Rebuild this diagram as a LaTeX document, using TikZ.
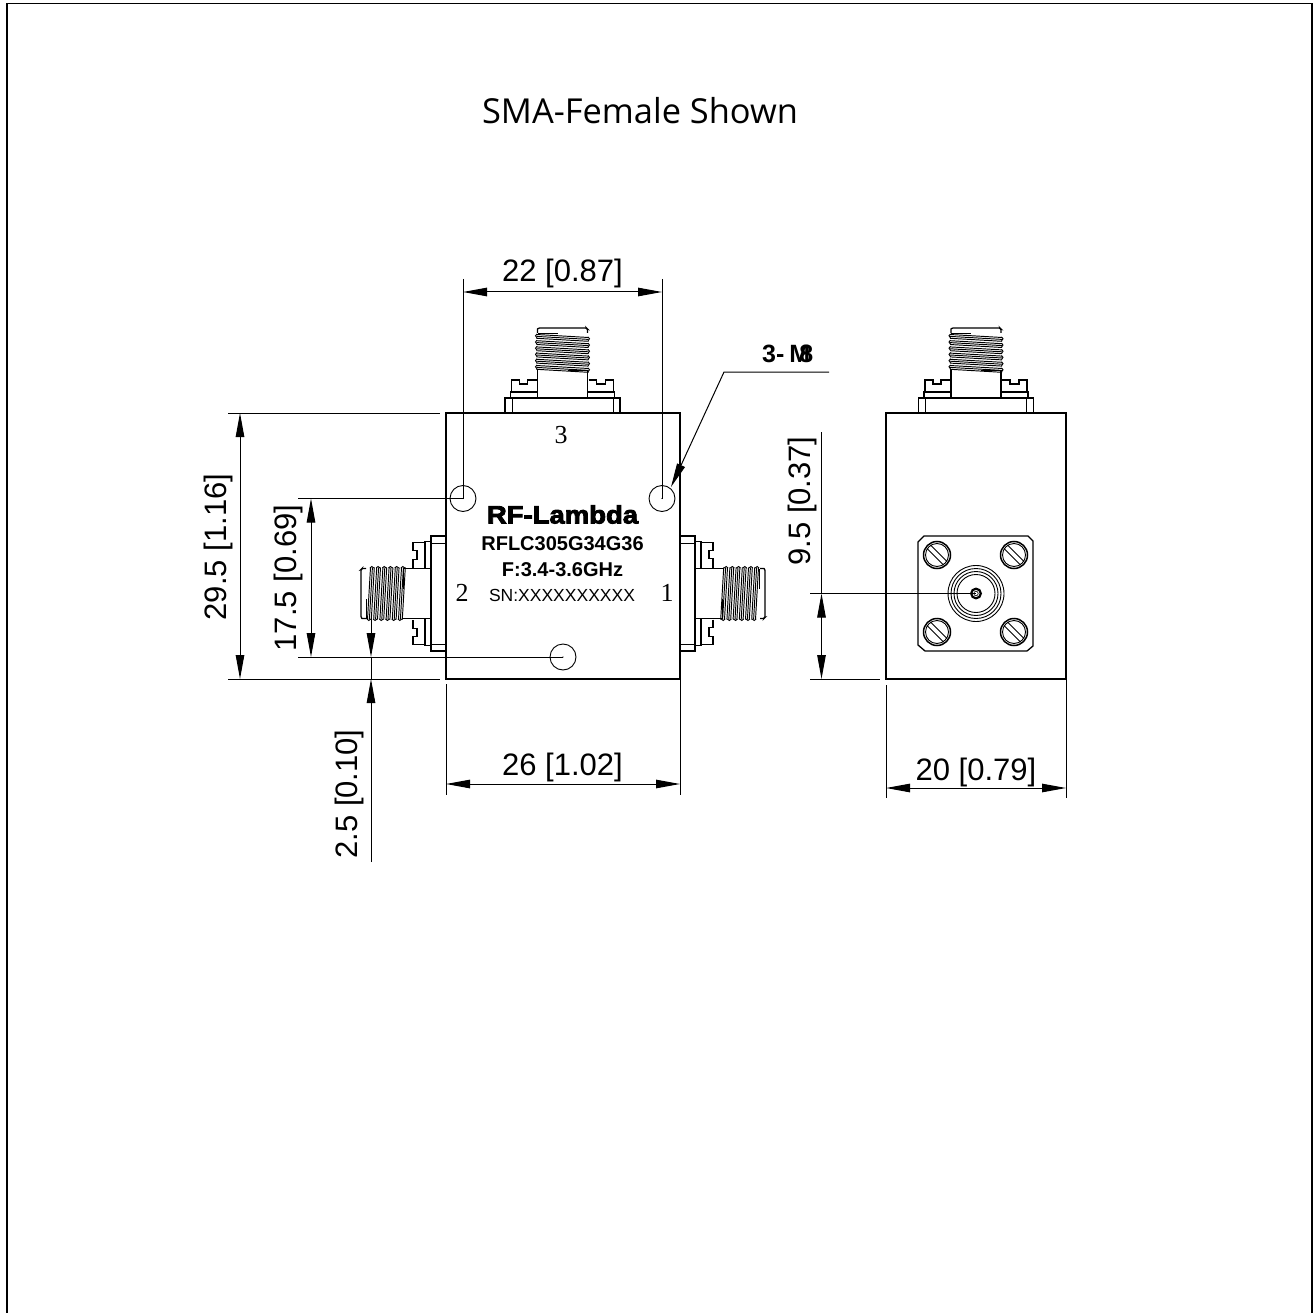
\documentclass[tikz,border=0pt]{standalone}
\usepackage{fontspec}
\setmainfont{Liberation Sans}
\newfontfamily\titlefont{Open Sans}
\newfontfamily\heavyfont[BoldFeatures={FakeBold=3.5,FakeStretch=1.1}]{Liberation Sans}
\newfontfamily\seriffont{Liberation Serif}
\usetikzlibrary{arrows.meta}
\tikzset{
  dimtext/.style={inner sep=0pt,font=\fontsize{31}{31}\selectfont},
  dimtextv/.style={dimtext,rotate=90},
  dimline/.style={line width=1pt,black},
  dimarrow/.style={line width=1pt,black,{Stealth[length=24pt,width=8.5pt,inset=0pt]}-{Stealth[length=24pt,width=8.5pt,inset=0pt]}},
  endarrow/.style={line width=1pt,black,-{Stealth[length=24pt,width=8.5pt,inset=0pt]}},
  part/.style={line width=1.3pt,black},
  heavy/.style={line width=1.8pt,black},
  thin/.style={line width=0.9pt,black},
  threadline/.style={line width=0.95pt,black},
  labeltext/.style={inner sep=0pt},
}
% connector drawn in local coordinates: u across, v along axis from base
\newcommand{\sma}{%
  \draw[part] (-57.5,0) rectangle (57.5,15);
  \draw[heavy] (-57.5,0) -- (57.5,0);
  \draw[thin] (-50.5,0) -- (-50.5,15) (50.5,0) -- (50.5,15);
  \draw[part] (-52,15) rectangle (-25,21);
  \draw[part] (25,15) rectangle (52,21);
  \draw[part] (-25,15) -- (-25,43) (25,15) -- (25,43);
  \draw[part] (-51,21) -- (-51,33) -- (-43,33) -- (-43,29) -- (-35,29) -- (-35,33) -- (-26,33);
  \draw[part] (26,33) -- (34,33) -- (34,29) -- (43,29) -- (43,33) -- (51,33) -- (51,21);
  \draw[part] (-25,80) -- (-25,84) [rounded corners=1pt] -- (-24,85) -- (24,85) -- (25,84) -- (25,80);
  \draw[heavy] (-25,79.5) -- (-5,79.5);
  \draw[heavy] (5,42.5) -- (25,42.5);
  \foreach \i in {0,...,5}{
    \pgfmathsetmacro{\va}{78.5-6.2*\i}
    \draw[threadline] (-26,\va) -- (26,\va-3);
    \draw[threadline] (-26,\va-1.9) -- (26,\va-4.9);
    \draw[threadline] (-26,\va-3.8) -- (26,\va-6.8);
    \draw[thin] (-25.5,\va+0.6) -- (-27,\va-1.3) -- (-25.5,\va-3.5);
    \draw[thin] (25.5,\va-2.4) -- (27,\va-4.3) -- (25.5,\va-6.5);
  }
}
\begin{document}
\begin{tikzpicture}[x=1pt,y=-1pt]
\useasboundingbox (0,0) rectangle (1314,1313);
\fill[white] (0,0) rectangle (1314,1313);
% sheet frame
\draw[line width=1.3pt,black] (7,1313) -- (7,3.5) -- (1312,3.5) -- (1312,1313);
% title
\node[labeltext,font=\titlefont\fontsize{34.4}{34.4}\selectfont] (title) at (640,111) {SMA-Female Shown};
% front view body
\draw[line width=1.1pt] (446,413) -- (680,413) -- (680,679) -- (446,679) -- cycle;
\draw[line width=1.6pt] (446,413) -- (446,679) (680,413) -- (680,679);
% connectors
\begin{scope}[shift={(562.5,413)},x={(1pt,0pt)},y={(0pt,1pt)}]\sma\end{scope}
\begin{scope}[shift={(446,593.5)},x={(0pt,1pt)},y={(-1pt,0pt)}]\sma\end{scope}
\begin{scope}[shift={(680,593.5)},x={(0pt,-1pt)},y={(1pt,0pt)}]\sma\end{scope}
% holes
\foreach \n/\x/\y in {ha/463/498.5,hb/662/498.5,hc/563/657}{
  \draw[thin] (\x,\y) circle[radius=13];
  \fill (\x,\y) circle[radius=0.7];
  \coordinate (\n) at (\x,\y);
}
% body text
\node[labeltext,font=\heavyfont\bfseries\fontsize{25}{25}\selectfont] (brand) at (562.5,514.5) {RF-Lambda};
\node[labeltext,font=\bfseries\fontsize{20}{20}\selectfont] (model) at (562.5,543.5) {RFLC305G34G36};
\node[labeltext,font=\bfseries\fontsize{20}{20}\selectfont] (freq) at (562.5,569.5) {F:3.4-3.6GHz};
\node[labeltext,font=\fontsize{17.5}{17.5}\selectfont] (sn) at (562,595) {SN:XXXXXXXXXX};
\node[labeltext,font=\seriffont\fontsize{26}{26}\selectfont] (p2) at (462,593) {2};
\node[labeltext,font=\seriffont\fontsize{26}{26}\selectfont] (p1) at (667,593) {1};
\node[labeltext,font=\seriffont\fontsize{26}{26}\selectfont] (p3) at (561,435) {3};
% side view
\draw[line width=1.1pt] (886,413) rectangle (1066,679);
\begin{scope}[shift={(976,413)},x={(1pt,0pt)},y={(0pt,1pt)}]\sma\end{scope}
\coordinate (sc) at (976,593.5);
\draw[part] (924,536) -- (1028,536) -- (1033,541) -- (1033,646) -- (1027,651) -- (925,651) -- (918,645) -- (918,542) -- cycle;
\foreach \r in {28,25,22,19}{\draw[thin] (sc) circle[radius=\r];}
\draw[line width=2.2pt] (sc) circle[radius=4.8];
\draw[line width=0.6pt] (sc) circle[radius=2.2];
\foreach \x/\y in {937/555,1014/555,937/632,1014/632}{
  \draw[line width=1.5pt] (\x,\y) circle[radius=13.5];
  \draw[thin] (\x,\y) circle[radius=11.5];
  \draw[thin] (\x-10,\y-6.5) -- (\x+6.5,\y+10);
  \draw[thin] (\x-6.5,\y-10) -- (\x+10,\y+6.5);
}
% dimension 22
\coordinate (e22a) at (463,279); \coordinate (e22b) at (662,279);
\draw[dimline] (e22a) -- (ha); \draw[dimline] (e22b) -- (hb);
\coordinate (d22a) at (463,292); \coordinate (d22b) at (662,292);
\draw[dimarrow] (d22a) -- (d22b);
\node[dimtext] (t22) at (562.5,273) {22 [0.87]};
% dimension 29.5
\coordinate (e29a) at (228,413); \coordinate (e29b) at (228,679);
\coordinate (e29c) at (440,413); \coordinate (e29d) at (440,679);
\draw[dimline] (e29a) -- (e29c); \draw[dimline] (e29b) -- (e29d);
\coordinate (d29a) at (240,413); \coordinate (d29b) at (240,679);
\draw[dimarrow] (d29a) -- (d29b);
\node[dimtextv] (t29) at (218.5,547) {29.5 [1.16]};
% dimension 17.5
\coordinate (e17a) at (298,498.5); \coordinate (e17b) at (298,657);
\draw[dimline] (e17a) -- (ha); \draw[dimline] (e17b) -- (hc);
\coordinate (d17a) at (311,498.5); \coordinate (d17b) at (311,657);
\draw[dimarrow] (d17a) -- (d17b);
\node[dimtextv] (t17) at (288.5,578) {17.5 [0.69]};
% dimension 2.5
\coordinate (d2a) at (371,618); \coordinate (d2b) at (371,657);
\coordinate (d2c) at (371,862); \coordinate (d2d) at (371,679);
\draw[endarrow] (d2a) -- (d2b);
\draw[dimline] (d2b) -- (d2d);
\draw[endarrow] (d2c) -- (d2d);
\node[dimtextv] (t2) at (349.5,794) {2.5 [0.10]};
% dimension 26
\coordinate (e26a) at (446,684); \coordinate (e26b) at (446,795);
\coordinate (e26c) at (680,679); \coordinate (e26d) at (680,795);
\draw[dimline] (e26a) -- (e26b); \draw[dimline] (e26c) -- (e26d);
\coordinate (d26a) at (446,784); \coordinate (d26b) at (680,784);
\draw[dimarrow] (d26a) -- (d26b);
\node[dimtext] (t26) at (562.5,767) {26 [1.02]};
% dimension 20
\coordinate (e20a) at (886,685); \coordinate (e20b) at (886,798);
\coordinate (e20c) at (1066,679); \coordinate (e20d) at (1066,798);
\draw[dimline] (e20a) -- (e20b); \draw[dimline] (e20c) -- (e20d);
\coordinate (d20a) at (886,788); \coordinate (d20b) at (1066,788);
\draw[dimarrow] (d20a) -- (d20b);
\node[dimtext] (t20) at (976,772) {20 [0.79]};
% dimension 9.5
\coordinate (e9a) at (810,679); \coordinate (e9b) at (880,679);
\draw[dimline] (e9a) -- (e9b);
\coordinate (d9a) at (821.5,432); \coordinate (d9b) at (821.5,593.5);
\coordinate (d9c) at (821.5,679); \coordinate (e9c) at (810,593.5);
\draw[dimline] (e9c) -- (sc);
\draw[dimline] (d9a) -- (d9b);
\draw[dimarrow] (d9b) -- (d9c);
\node[dimtextv] (t9) at (802,501) {9.5 [0.37]};
% leader 3-M8
\coordinate (la) at (829,372); \coordinate (lb) at (724,372); \coordinate (lc) at (671,487);
\draw[endarrow] (la) -- (lb) -- (lc);
\node[labeltext,font=\bfseries\fontsize{25}{25}\selectfont,anchor=west] (lead) at (762,354) {3-\hspace{5pt}M\kern-11pt 8};
\end{tikzpicture}
\end{document}
